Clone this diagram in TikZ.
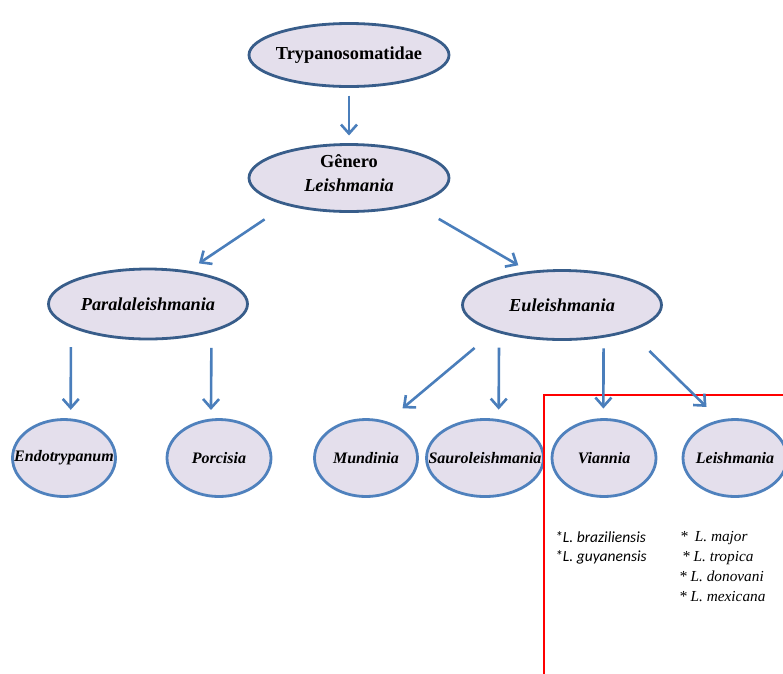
\documentclass[tikz,border=0pt]{standalone}
\usepackage{fontspec}
\setmainfont{Liberation Serif}
\newfontfamily\calib{Carlito}
\usetikzlibrary{shapes.geometric}
\usetikzlibrary{arrows.meta}
\definecolor{lav}{HTML}{E4DFEC}
\definecolor{navy}{HTML}{385D8A}
\definecolor{sky}{HTML}{4F81BD}
\definecolor{arrblue}{HTML}{4A7EBB}

\begin{document}
\begin{tikzpicture}[x=1pt,y=-1pt,
		toptext/.style={font=\fontsize{18.3}{23.5}\selectfont\bfseries},
		top/.style={ellipse, draw=navy, fill=lav, line width=2.8pt, outer sep=0pt, inner sep=0pt, minimum width=200pt, toptext},
		sub/.style={ellipse, draw=sky, fill=lav, line width=2.8pt, outer sep=0pt, inner sep=0pt, minimum width=104pt, minimum height=77pt, font=\fontsize{16}{18}\selectfont\bfseries\itshape},
		arr/.style={draw=arrblue, line width=2.6pt, -{Straight Barb[length=9pt,width=16pt]}},
		spp/.style={align=left, anchor=north west, inner sep=0pt, font=\fontsize{15.3}{20}\selectfont\itshape},
		frame/.style={draw=red, line width=2.8pt}]
				\useasboundingbox (0,0) rectangle (783,673);
				\node[top, minimum height=63pt] (tryp) at (349,55) {\makebox[0pt]{Trypanosomatidae}};
				\node[top, minimum height=67pt, label={[toptext, align=center, yshift=5pt]center:Gênero\\\textit{Leishmania}}] (gen) at (349,178) {};
				\node[top, minimum height=70pt, minimum width=199pt] (para) at (148,304) {\makebox[0pt]{\itshape Paralaleishmania}};
				\node[top, minimum height=69pt, minimum width=199pt] (eu) at (562,305) {\makebox[0pt]{\itshape Euleishmania}};
				
				\node[sub, minimum width=103pt] (endo) at (64,458) {\makebox[0pt]{Endotrypanum}};
				\node[sub] (porc) at (219,458) {\makebox[0pt]{Porcisia}};
				\node[sub, minimum width=103pt] (mund) at (366,458) {\makebox[0pt]{Mundinia}};
				\node[sub, minimum width=117pt] (saur) at (485,458) {\makebox[0pt]{Sauroleishmania}};
				\node[sub] (vian) at (604,458) {\makebox[0pt]{Viannia}};
				\node[sub] (leish) at (735,458) {\makebox[0pt]{Leishmania}};
				
				\draw[frame] (544,700) |- (800,395);
				
				\node[spp, font=\fontsize{15.5}{19.5}\selectfont\calib\itshape] (vspp) at (555,531) {*L. braziliensis\\*L. guyanensis};
				\node[spp] (lspp) at (679,531) {\hspace{1pt}*\hspace{7pt}L. major\\\hspace{3pt}* L. tropica\\* L. donovani\\* L. mexicana};
				
				\draw[arr, shorten <=9pt, shorten >=9pt] (tryp) -- (gen);
				\draw[arr, shorten <=27pt, shorten >=15pt] (gen.203) -- (para.40);
				\draw[arr, shorten <=30pt, shorten >=14pt] (gen.338) -- (eu.134);
				\draw[arr, shorten <=21pt, shorten >=10pt] (para.196) -- (endo.80);
				\draw[arr, shorten <=17pt, shorten >=10pt] (para.337) -- (porc.102);
				\draw[arr, shorten <=27pt, shorten >=22pt] (eu.201) -- (mund.61);
				\draw[arr, shorten <=16pt, shorten >=11pt] (eu.203) -- (saur.70);
				\draw[arr, shorten <=12pt, shorten >=11pt] (eu.323) -- (vian.91);
				\draw[arr, shorten <=29pt, shorten >=20pt] (eu.339) -- (leish.111);
			\end{tikzpicture}
\end{document}
